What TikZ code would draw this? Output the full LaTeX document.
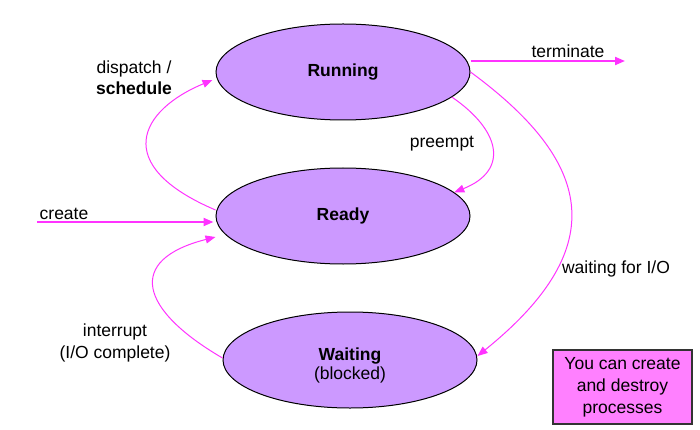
\documentclass[tikz,border=0pt]{standalone}
\usepackage{fontspec}
\setmainfont{Liberation Sans}
\usetikzlibrary{shapes.geometric,arrows.meta}
\definecolor{statefill}{RGB}{204,153,255}
\definecolor{trans}{RGB}{255,51,255}
\definecolor{notefill}{RGB}{255,128,255}
\begin{document}
\begin{tikzpicture}[x=1pt,y=-1pt,
    lbl/.style={font=\fontsize{17.5}{22}\selectfont, align=center, inner sep=0pt},
    trans/.style={draw=trans, line width=1pt, -{Triangle[length=10pt,width=8pt]}},
    thick trans/.style={trans, line width=2pt}]

      \useasboundingbox (0,0) rectangle (700,430);

      \begin{scope}[every node/.style={ellipse, draw, fill=statefill, line width=1pt,
          minimum width=254pt, minimum height=96pt, inner sep=0pt, align=center,
          font=\fontsize{17.5}{22}\selectfont}]
        \node (running) at (343,72)  {\textbf{Running}};
        \node (ready)   at (343,216) {\textbf{Ready}};
        \node (waiting) at (350,360) {};
      \end{scope}

      \coordinate (entry) at (37,222);
      \coordinate (exit)  at (625,61);

      \begin{scope}[every node/.style={lbl}]
        \node (waitname)  at (350,365) {\textbf{Waiting}\\[-3pt](blocked)};
        \node (terminate) at (568,51)  {terminate};
        \node (create)    at (64,214)  {create};
        \node (dispatch)  at (134,78)  {dispatch /\\[-1pt]\textbf{schedule}};
        \node (preempt)   at (442,144) {preempt};
        \node (waitio)    at (616,269) {waiting for I/O};
        \node (interrupt) at (115,343) {interrupt\\(I/O complete)};
        \node[draw=black!80, line width=1.5pt, fill=notefill, minimum width=139pt,
          minimum height=74pt] (note) at (622.5,387) {You can create\\and destroy\\processes};
      \end{scope}

      \draw[thick trans] ([yshift=11pt]running.east) -- (exit);
      \draw[thick trans] (entry) -- ([xshift=-2pt,yshift=-6pt]ready.west);
      \draw[trans] ([yshift=6pt]ready.west) .. controls (110,165) and (140,110) .. ([xshift=-3pt,yshift=-8pt]running.west);
      \draw[trans] (running.-13) .. controls (500,130) and (510,170) .. (ready.12);
      \draw[trans] (running.east) .. controls (590,160) and (615,245) .. ([yshift=4pt]waiting.east);
      \draw[trans] ([yshift=2pt]waiting.west) .. controls (140,310) and (125,260) .. ([yshift=-21pt]ready.west);

    \end{tikzpicture}
\end{document}
